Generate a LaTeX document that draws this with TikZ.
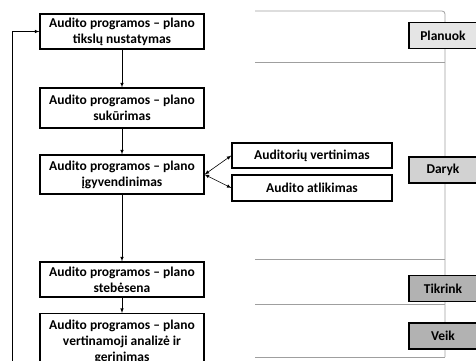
\documentclass[tikz,border=0pt]{standalone}
\usepackage{fontspec}
\setmainfont{Carlito}
\usetikzlibrary{arrows}

\tikzset{
  stepbox/.style={draw, line width=1.2pt, fill=white, minimum width=164pt, align=center, inner sep=1pt, font=\bfseries\fontsize{13.5}{16}\selectfont},
  subbox/.style={draw, line width=1.2pt, fill=white, minimum width=160pt, align=center, font=\bfseries\fontsize{13.5}{16}\selectfont},
  phase/.style={draw, line width=1.2pt, minimum width=68pt, minimum height=26pt, font=\bfseries\fontsize{13.5}{16}\selectfont},
  flow/.style={->, >=latex, line width=0.6pt},
  guide/.style={gray!75, line width=0.8pt}
}

\begin{document}
\begin{tikzpicture}[x=1pt, y=-1pt]
\useasboundingbox (0,0) rectangle (476,361);

% guide lines on the right
\foreach \y in {62,259,304,357}{
\draw[guide] (255,\y)--(445,\y);
}
\draw[guide, rounded corners=3pt] (255,11) -| (445,357);

% main steps
\node[stepbox, minimum height=35pt] (tikslai) at (122,31.5) {Audito programos -- plano\\tikslų nustatymas};
\node[stepbox, minimum height=40pt] (kurimas) at (122,108) {Audito programos -- plano\\sukūrimas};
\node[stepbox, minimum height=39pt] (igyvend) at (122,174.5) {Audito programos -- plano\\įgyvendinimas};
\node[stepbox, minimum height=35pt] (stebesena) at (122,279.5) {Audito programos -- plano\\stebėsena};
\node[stepbox, minimum height=56pt, anchor=north] (gerinimas) at (122,313) {Audito programos -- plano\\vertinamoji analizė ir\\gerinimas};

\node[subbox, minimum height=25pt] (auditoriai) at (312,155.5) {Auditorių vertinimas};
\node[subbox, minimum height=26pt] (atlikimas) at (312,188) {Audito atlikimas};

% phases
\node[phase, fill=gray!20] (planuok) at (443,35.5) {Planuok};
\node[phase, fill=gray!35] (daryk) at (443,170) {Daryk};
\node[phase, fill=gray!60] (tikrink) at (443,288.5) {Tikrink};
\node[phase, fill=gray!60] (veik) at (443,336) {Veik};

% arrows
\draw[flow] (tikslai)--(kurimas);
\draw[flow] (kurimas)--(igyvend);
\draw[flow] (igyvend)--(stebesena);
\draw[flow] (stebesena)--(gerinimas);
\draw[flow, <->] (igyvend.east)--(auditoriai.west);
\draw[flow, <->] (igyvend.east)--(atlikimas.west);

\coordinate (grizti) at (12,375);
\draw[flow] (grizti) |- (tikslai.west);
\end{tikzpicture}
\end{document}
